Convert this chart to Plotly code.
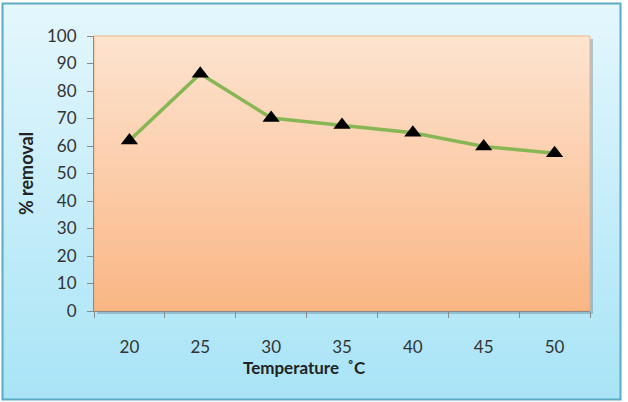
import plotly.graph_objects as go

# ---- data ----
temperatures = ["20", "25", "30", "35", "40", "45", "50"]
removal = [62, 86.3, 70.2, 67.6, 64.8, 59.8, 57.4]
y_ticks = [0, 10, 20, 30, 40, 50, 60, 70, 80, 90, 100]
x_title = "Temperature  ˚C"
y_title = "% removal"

W, H = 628, 402
L, R, T, B = 94, 38, 36, 91
PW, PH = W - L - R, H - T - B

def px(x):
    return (x - L) / PW

def py(y):
    return (H - B - y) / PH

def lerp(c1, c2, t):
    return "rgb(%d,%d,%d)" % tuple(round(a + (b - a) * t) for a, b in zip(c1, c2))

shapes = []

def gradient(x0, y0, x1, y1, ctop, cbot, n=60):
    h = (y1 - y0) / n
    for i in range(n):
        shapes.append(dict(type="rect", xref="paper", yref="paper",
                           x0=px(x0), x1=px(x1), y0=py(y0 + i * h + h + 0.6), y1=py(y0 + i * h),
                           fillcolor=lerp(ctop, cbot, (i + 0.5) / n),
                           line=dict(width=0), layer="below"))

# outer chart area gradient
gradient(2.5, 3.5, 620.5, 399.5, (228, 247, 253), (168, 228, 246))
# outer border
shapes.append(dict(type="rect", xref="paper", yref="paper",
                   x0=px(2.5), x1=px(620.5), y0=py(399.5), y1=py(3.5),
                   line=dict(color="#5aaac6", width=2), layer="below"))
# plot area shadow
shapes.append(dict(type="rect", xref="paper", yref="paper",
                   x0=px(L + 3), x1=px(L + PW + 3), y0=py(T + PH + 3), y1=py(T + 3),
                   fillcolor="rgba(90,110,120,0.35)", line=dict(width=0), layer="below"))
# plot area gradient
gradient(L, T, L + PW, T + PH, (253, 228, 208), (250, 182, 132))
shapes.append(dict(type="rect", xref="paper", yref="paper",
                   x0=0, x1=1, y0=0, y1=1,
                   line=dict(color="rgba(240,170,120,0.8)", width=1), layer="below"))

fig = go.Figure()
fig.add_trace(go.Scatter(
    x=temperatures, y=removal, mode="lines+markers",
    line=dict(color="#88b655", width=3.5),
    marker=dict(symbol="triangle-up", size=15, color="black",
                line=dict(color="black", width=0)),
    showlegend=False, cliponaxis=False))

font = "Lato, 'Open Sans', sans-serif"
fig.update_layout(
    width=W, height=H,
    margin=dict(l=L, r=R, t=T, b=B),
    paper_bgcolor="white", plot_bgcolor="rgba(0,0,0,0)",
    shapes=shapes,
    font=dict(family=font, color="#333333", size=17),
    xaxis=dict(type="category", range=[-0.5, 6.5], tickson="boundaries",
               ticks="outside", ticklen=6, tickcolor="#8a8a8a",
               showline=True, linecolor="#8a8a8a", linewidth=1,
               showgrid=False, zeroline=False, ticklabelstandoff=21,
               tickfont=dict(size=17, color="#333333")),
    yaxis=dict(range=[0, 100], tickvals=y_ticks,
               ticks="outside", ticklen=6, tickcolor="#8a8a8a",
               showline=True, linecolor="#8a8a8a", linewidth=1,
               showgrid=False, zeroline=False, ticklabelstandoff=7,
               tickfont=dict(size=17, color="#333333"),
               title=dict(text="<b>" + y_title + "</b>",
                          font=dict(size=18, color="#222222"), standoff=8)),
    annotations=[dict(text="<b>" + x_title + "</b>", xref="paper", yref="paper",
                      x=px(304), y=py(367), xanchor="center", yanchor="middle",
                      showarrow=False, font=dict(size=17, color="#222222"))],
)

fig.write_html("out.html")
